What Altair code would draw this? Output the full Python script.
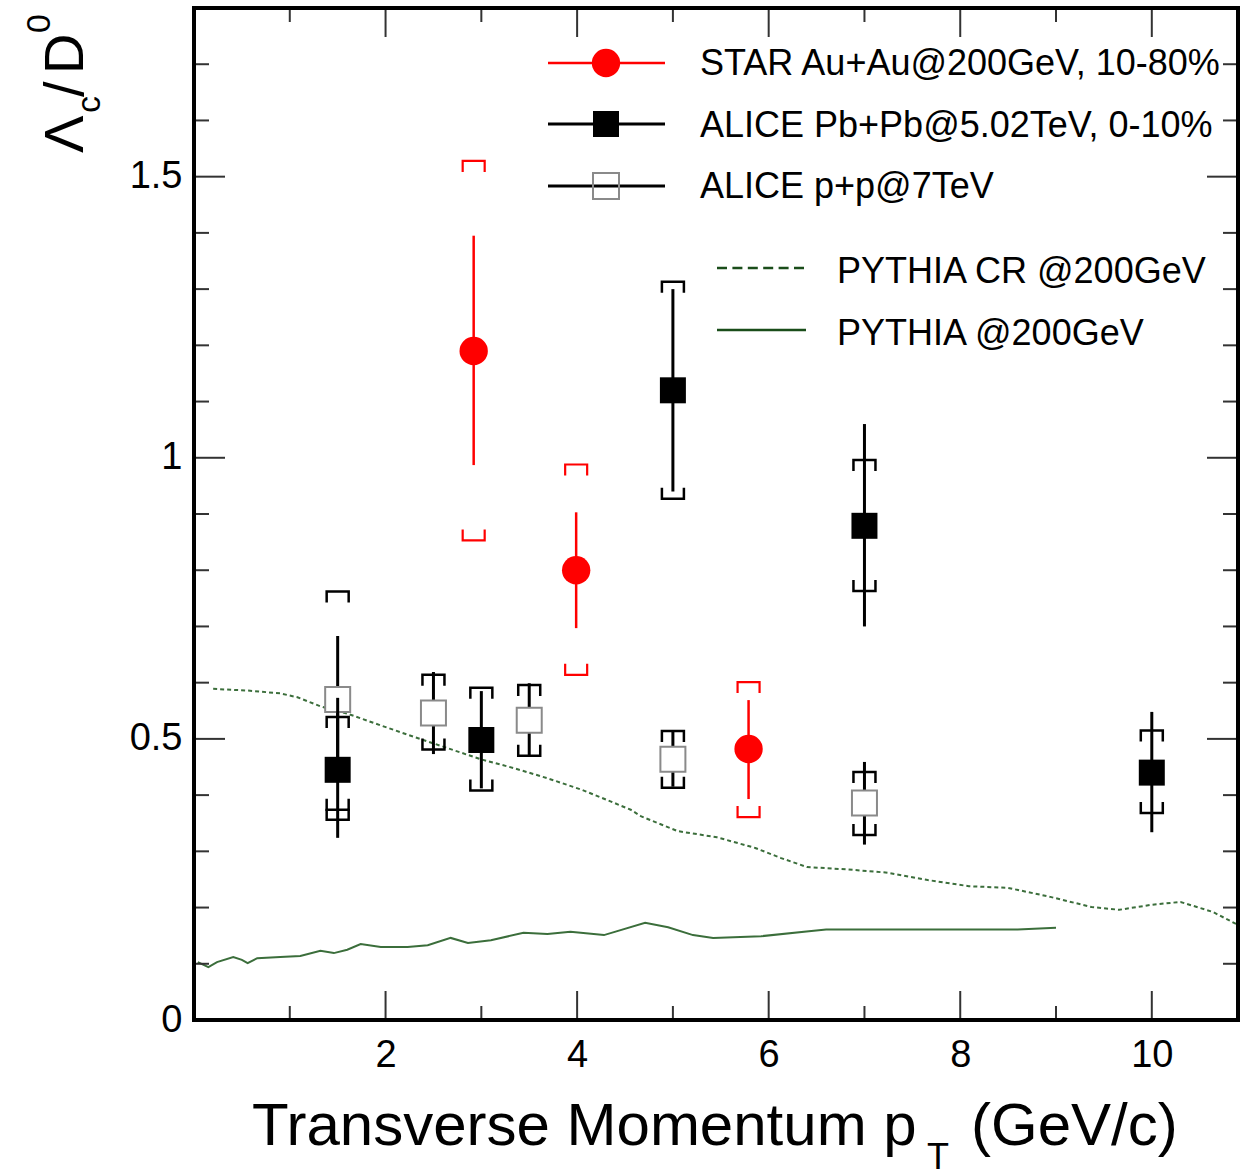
import altair as alt
import pandas as pd

FONT = "Liberation Sans"

# ---------------- data ----------------
# STAR Au+Au @ 200 GeV, 10-80%
star_pt = [2.92, 3.99, 5.79]
star_ratio = [1.19, 0.80, 0.482]
star_stat_lo = [0.987, 0.697, 0.393]
star_stat_hi = [1.395, 0.903, 0.569]
star_sys_lo = [0.853, 0.614, 0.361]
star_sys_hi = [1.528, 0.988, 0.601]

# ALICE Pb+Pb @ 5.02 TeV, 0-10%
pbpb_pt = [1.5, 3.0, 5.0, 7.0, 10.0]
pbpb_ratio = [0.445, 0.498, 1.12, 0.879, 0.44]
pbpb_stat_lo = [0.324, 0.412, 0.940, 0.700, 0.334]
pbpb_stat_hi = [0.573, 0.585, 1.300, 1.060, 0.548]
pbpb_sys_lo = [0.374, 0.408, 0.927, 0.763, 0.368]
pbpb_sys_hi = [0.539, 0.591, 1.313, 0.996, 0.515]

# ALICE p+p @ 7 TeV
pp_pt = [1.5, 2.5, 3.5, 5.0, 7.0]
pp_ratio = [0.570, 0.546, 0.533, 0.464, 0.386]
pp_stat_lo = [0.457, 0.473, 0.468, 0.415, 0.312]
pp_stat_hi = [0.683, 0.619, 0.599, 0.514, 0.459]
pp_sys_lo = [0.356, 0.481, 0.470, 0.413, 0.329]
pp_sys_hi = [0.762, 0.614, 0.596, 0.514, 0.441]

# PYTHIA CR @ 200 GeV (dashed)
pythia_cr_pt = [0.2, 0.56, 0.9, 1.08, 1.32, 1.6, 1.95, 2.29, 2.64, 2.99, 3.34, 3.69,
                4.04, 4.26, 4.56, 4.67, 5.05, 5.46, 5.86, 6.13, 6.4, 6.81, 7.24,
                7.66, 8.09, 8.5, 8.94, 9.37, 9.66, 10.0, 10.3, 10.64, 10.9]
pythia_cr_ratio = [0.589, 0.586, 0.581, 0.574, 0.558, 0.545, 0.524, 0.504, 0.484, 0.464,
                   0.448, 0.430, 0.410, 0.395, 0.374, 0.362, 0.336, 0.325, 0.306, 0.288,
                   0.272, 0.268, 0.262, 0.249, 0.238, 0.235, 0.219, 0.201, 0.196, 0.205,
                   0.210, 0.192, 0.169]

# PYTHIA @ 200 GeV (solid)
pythia_pt = [0.04, 0.15, 0.24, 0.41, 0.5, 0.56, 0.66, 0.9, 1.11, 1.32, 1.46, 1.6, 1.74,
             1.95, 2.23, 2.44, 2.68, 2.86, 3.1, 3.44, 3.69, 3.93, 4.28, 4.71, 4.95,
             5.21, 5.42, 5.92, 6.42, 6.6, 8.6, 9.0]
pythia_ratio = [0.103, 0.094, 0.103, 0.112, 0.107, 0.101, 0.110, 0.112, 0.114, 0.123,
                0.119, 0.125, 0.135, 0.130, 0.130, 0.133, 0.146, 0.137, 0.142, 0.155,
                0.153, 0.157, 0.151, 0.173, 0.165, 0.151, 0.146, 0.149, 0.158, 0.161,
                0.161, 0.164]

legend_marker_labels = ["STAR Au+Au@200GeV, 10-80%", "ALICE Pb+Pb@5.02TeV, 0-10%", "ALICE p+p@7TeV"]
legend_line_labels = ["PYTHIA CR @200GeV", "PYTHIA @200GeV"]

x_major = [2, 4, 6, 8, 10]
x_minor = [1, 3, 5, 7, 9]
y_major = [0, 0.5, 1, 1.5]
y_minor = [0.1, 0.2, 0.3, 0.4, 0.6, 0.7, 0.8, 0.9, 1.1, 1.2, 1.3, 1.4, 1.6, 1.7]

# ---------------- layout ----------------
W, H = 1044, 1012
RED = "#ff0000"
BLACK = "#000000"
GREEN = "#3b6e3b"
GREEN_LEG = "#1a4d1a"
TICK = "#333333"

TOP_BRACKET = "M -1 1 L -1 0 L 1 0 L 1 1"
BOTTOM_BRACKET = "M -1 -1 L -1 0 L 1 0 L 1 -1"

xscale = alt.Scale(domain=[0, 10.9], nice=False, zero=False)
yscale = alt.Scale(domain=[0, 1.8], nice=False, zero=False)
xaxis = alt.Axis(values=x_major, ticks=False, domain=False, grid=False, title=None,
                 labelFont=FONT, labelFontSize=38, labelColor="black", labelPadding=16,
                 format="d", labelFlush=False)
yaxis = alt.Axis(values=y_major, ticks=False, domain=False, grid=False, title=None,
                 labelFont=FONT, labelFontSize=38, labelColor="black", labelPadding=12,
                 format="~g")


def X(f):
    return alt.X(f, type="quantitative", scale=xscale, axis=xaxis)


def Y(f):
    return alt.Y(f, type="quantitative", scale=yscale, axis=yaxis)


one = pd.DataFrame({"d": [0]})
layers = []

# PYTHIA curves
cr_df = pd.DataFrame({"pt": pythia_cr_pt, "r": pythia_cr_ratio})
py_df = pd.DataFrame({"pt": pythia_pt, "r": pythia_ratio})
layers.append(alt.Chart(cr_df).mark_line(color=GREEN, strokeWidth=2, strokeDash=[4, 3])
              .encode(x=X("pt"), y=Y("r"), order="pt:Q"))
layers.append(alt.Chart(py_df).mark_line(color=GREEN, strokeWidth=2)
              .encode(x=X("pt"), y=Y("r"), order="pt:Q"))


def series(pt, r, slo, shi, ylo, yhi, color, lw, bw, marker):
    df = pd.DataFrame({"pt": pt, "r": r, "slo": slo, "shi": shi, "ylo": ylo, "yhi": yhi})
    return [
        alt.Chart(df).mark_rule(color=color, strokeWidth=lw).encode(x=X("pt"), y=Y("slo"), y2="shi"),
        alt.Chart(df).mark_point(shape=TOP_BRACKET, size=484, filled=False, opacity=1,
                                 color=color, strokeWidth=bw).encode(x=X("pt"), y=Y("yhi")),
        alt.Chart(df).mark_point(shape=BOTTOM_BRACKET, size=484, filled=False, opacity=1,
                                 color=color, strokeWidth=bw).encode(x=X("pt"), y=Y("ylo")),
        alt.Chart(df).mark_point(**marker).encode(x=X("pt"), y=Y("r")),
    ]


pp_marker = dict(shape="square", size=625, filled=True, fill="white", stroke="#8a8a8a",
                 strokeWidth=2, opacity=1)
pbpb_marker = dict(shape="square", size=676, filled=True, color=BLACK, opacity=1)
star_marker = dict(shape="circle", size=804, filled=True, color=RED, opacity=1)

layers += series(pp_pt, pp_ratio, pp_stat_lo, pp_stat_hi, pp_sys_lo, pp_sys_hi, BLACK, 3, 2.5, pp_marker)
layers += series(pbpb_pt, pbpb_ratio, pbpb_stat_lo, pbpb_stat_hi, pbpb_sys_lo, pbpb_sys_hi, BLACK, 3, 2.5, pbpb_marker)
layers += series(star_pt, star_ratio, star_stat_lo, star_stat_hi, star_sys_lo, star_sys_hi, RED, 2.5, 2.2, star_marker)

# inward ticks on all four sides
for vals, ln in ((x_major, 29), (x_minor, 14)):
    d = pd.DataFrame({"v": vals})
    layers.append(alt.Chart(d).mark_rule(color=TICK, strokeWidth=2)
                  .encode(x=X("v"), y=alt.value(H), y2=alt.value(H - ln)))
    layers.append(alt.Chart(d).mark_rule(color=TICK, strokeWidth=2)
                  .encode(x=X("v"), y=alt.value(0), y2=alt.value(ln)))
for vals, ln in ((y_major, 31), (y_minor, 15)):
    d = pd.DataFrame({"v": vals})
    layers.append(alt.Chart(d).mark_rule(color=TICK, strokeWidth=2)
                  .encode(y=Y("v"), x=alt.value(0), x2=alt.value(ln)))
    layers.append(alt.Chart(d).mark_rule(color=TICK, strokeWidth=2)
                  .encode(y=Y("v"), x=alt.value(W), x2=alt.value(W - ln)))

# frame around the plot area
for x1, x2, y1, y2 in ((0, W, 0, 0), (0, W, H, H), (0, 0, 0, H), (W, W, 0, H)):
    layers.append(alt.Chart(one).mark_rule(color="black", strokeWidth=4, strokeCap="square")
                  .encode(x=alt.value(x1), x2=alt.value(x2), y=alt.value(y1), y2=alt.value(y2)))

# legend (marker entries)
leg_row_y = [55, 116, 178]
leg_text_y = [67, 129, 190]
pp_leg_marker = dict(shape="square", size=676, filled=False, stroke="#8a8a8a", strokeWidth=2, opacity=1)
leg_styles = [(RED, 2.5, star_marker), (BLACK, 3, pbpb_marker), (BLACK, 3, pp_leg_marker)]
for lab, ry, ty, (col, lw, mk) in zip(legend_marker_labels, leg_row_y, leg_text_y, leg_styles):
    layers.append(alt.Chart(one).mark_rule(color=col, strokeWidth=lw)
                  .encode(x=alt.value(354), x2=alt.value(471), y=alt.value(ry)))
    layers.append(alt.Chart(one).mark_point(**mk).encode(x=alt.value(412), y=alt.value(ry)))
    layers.append(alt.Chart(one).mark_text(text=lab, font=FONT, fontSize=36, align="left",
                                           baseline="alphabetic", color="black")
                  .encode(x=alt.value(506), y=alt.value(ty)))

# legend (PYTHIA lines)
for lab, ry, ty, dash in zip(legend_line_labels, [260, 322], [275, 337], [[10, 5.4], []]):
    kw = dict(color=GREEN_LEG, strokeWidth=2.5)
    if dash:
        kw["strokeDash"] = dash
    layers.append(alt.Chart(one).mark_rule(**kw)
                  .encode(x=alt.value(523), x2=alt.value(612), y=alt.value(ry)))
    layers.append(alt.Chart(one).mark_text(text=lab, font=FONT, fontSize=36, align="left",
                                           baseline="alphabetic", color="black")
                  .encode(x=alt.value(643), y=alt.value(ty)))


# axis titles built from pieces (sub/superscripts)
def txt(t, x, y, size, angle=0):
    kw = dict(text=t, font=FONT, fontSize=size, align="left", baseline="alphabetic", color="black")
    if angle:
        kw["angle"] = angle
    return alt.Chart(one).mark_text(**kw).encode(x=alt.value(x), y=alt.value(y))


layers += [
    txt("Transverse Momentum p", 58, 1137, 60),
    txt("T", 733, 1161, 36),
    txt("(GeV/c)", 777, 1137, 60),
    txt("\u039b", -111, 145, 56, 270),
    txt("c", -94, 105, 34, 270),
    txt("/", -111, 89, 56, 270),
    txt("D", -111, 66, 56, 270),
    txt("0", -144, 25, 34, 270),
]

chart = alt.layer(*layers).properties(
    width=W, height=H,
    autosize=alt.AutoSizeParams(type="none"),
    padding={"left": 194, "top": 8, "right": 15, "bottom": 156},
).configure_view(stroke=None)

chart.save("out.html", embed_options={"renderer": "svg", "actions": False})
